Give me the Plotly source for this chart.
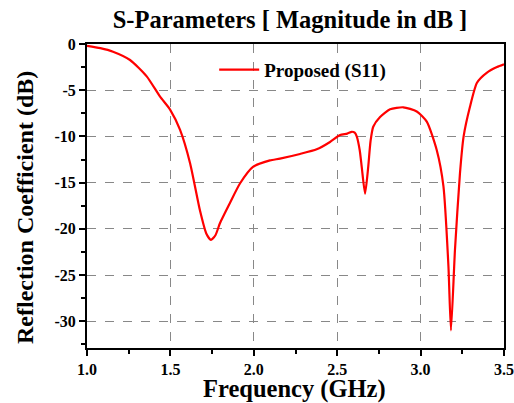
import plotly.graph_objects as go

freq_ghz = [1.0, 1.08, 1.156, 1.258, 1.358, 1.438, 1.498, 1.558, 1.618, 1.677, 1.715,
            1.743, 1.77, 1.797, 1.857, 1.917, 1.995, 2.097, 2.157, 2.277, 2.377, 2.457,
            2.517, 2.56, 2.587, 2.605, 2.617, 2.635, 2.647, 2.667, 2.686, 2.70, 2.716,
            2.757, 2.817, 2.896, 2.977, 3.037, 3.097, 3.137, 3.167, 3.182, 3.206, 3.236,
            3.258, 3.296, 3.338, 3.398, 3.458, 3.5]
s11_db = [-0.2, -0.45, -0.83, -1.73, -3.5, -5.7, -7.1, -9.3, -12.9, -18.0, -20.5,
          -21.2, -20.7, -19.4, -17.2, -15.1, -13.3, -12.6, -12.4, -11.9, -11.4, -10.6,
          -9.85, -9.7, -9.5, -9.6, -10.0, -11.5, -13.3, -16.2, -13.3, -10.5, -8.95,
          -7.9, -7.07, -6.85, -7.3, -8.4, -11.5, -15.4, -24.1, -31.0, -22.3, -14.0,
          -10.0, -6.8, -4.2, -3.1, -2.5, -2.2]
x_ticks = [1.0, 1.5, 2.0, 2.5, 3.0, 3.5]
x_labels = ["1.0", "1.5", "2.0", "2.5", "3.0", "3.5"]
y_ticks = [0, -5, -10, -15, -20, -25, -30]
y_labels = ["0", "-5", "-10", "-15", "-20", "-25", "-30"]

font_family = "Liberation Serif"

fig = go.Figure()
fig.add_trace(go.Scatter(
    x=freq_ghz, y=s11_db, mode="lines", name="<b>Proposed (S11)</b>",
    line=dict(color="#ff0000", width=2.2, shape="spline", smoothing=0.6),
))

fig.add_annotation(
    text="<b>Reflection Coefficient (dB)</b>", textangle=-90,
    xref="paper", yref="paper", x=(25 - 87) / 417, y=1 - (208 - 44) / 304,
    xanchor="center", yanchor="middle", showarrow=False,
    font=dict(size=24, family=font_family, color="black"),
)
fig.add_annotation(
    text="<b>Frequency (GHz)</b>",
    xref="paper", yref="paper", x=(294 - 87) / 417, y=-(388.5 - 348) / 304,
    xanchor="center", yanchor="middle", showarrow=False, borderpad=0,
    font=dict(size=24.5, family=font_family, color="black"),
)

fig.update_layout(
    width=514, height=403,
    margin=dict(l=87, r=10, t=44, b=55, autoexpand=False),
    paper_bgcolor="white", plot_bgcolor="white",
    font=dict(family=font_family, color="black"),
    title=dict(text="<b>S-Parameters [ Magnitude in dB ]</b>", x=290 / 514, xanchor="center",
               y=1 - 19 / 403, yanchor="middle", font=dict(size=24.5, family=font_family)),
    showlegend=True,
    legend=dict(x=0.305, y=0.915, xanchor="left", yanchor="middle",
                bgcolor="rgba(0,0,0,0)", font=dict(size=19, family=font_family),
                itemwidth=40),
    xaxis=dict(
        range=[1.0, 3.5], tickvals=x_ticks,
        ticktext=["<b>%s</b>" % t for t in x_labels],
        ticks="outside", ticklen=6, tickwidth=2, tickcolor="black",
        minor=dict(dtick=0.25, tick0=1.0, ticks="outside", ticklen=4, tickwidth=2, tickcolor="black", showgrid=False),
        showline=True, linecolor="black", linewidth=2, mirror=True,
        showgrid=True, gridcolor="#888888", griddash="dash", gridwidth=1,
        zeroline=False, tickfont=dict(size=16, family=font_family),
    ),
    yaxis=dict(
        range=[-32.9, 0], tickvals=y_ticks,
        ticktext=["<b>%s</b>" % t for t in y_labels],
        ticks="outside", ticklen=6, tickwidth=2, tickcolor="black",
        minor=dict(dtick=2.5, tick0=0, ticks="outside", ticklen=4, tickwidth=2, tickcolor="black", showgrid=False),
        showline=True, linecolor="black", linewidth=2, mirror=True,
        showgrid=True, gridcolor="#888888", griddash="dash", gridwidth=1,
        zeroline=False, tickfont=dict(size=16, family=font_family),
    ),
)

fig.write_html("out.html", config={"displayModeBar": False},
               post_script="document.body.style.margin='0';")
